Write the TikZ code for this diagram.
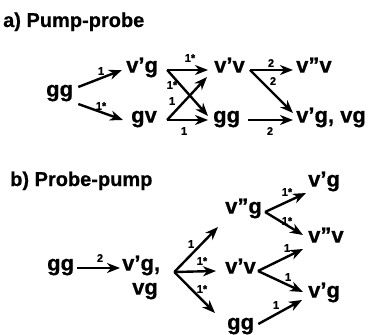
\documentclass[tikz,border=0pt]{standalone}
\usepackage{fontspec}
\setmainfont{Liberation Sans}
\newfontfamily\heavyfont[FakeBold=0.6]{Liberation Sans Bold}
\usetikzlibrary{arrows.meta}
\tikzset{
  st/.style={inner sep=0pt, anchor=mid west, font=\fontsize{22}{26}\selectfont\heavyfont},
  ttl/.style={inner sep=0pt, anchor=base west, font=\fontsize{20}{24}\selectfont\heavyfont},
  lbl/.style={inner sep=0pt, font=\fontsize{11}{13}\selectfont\heavyfont},
  arr/.style={line width=2.4pt, -{Stealth[length=13pt,width=10pt,inset=4pt]}}
}
\begin{document}
\begin{tikzpicture}[x=1pt,y=-1pt]
\useasboundingbox (0,0) rectangle (374,334);
% ---------- a) Pump-probe ----------
\node[ttl] (ta) at (3,27) {a) Pump-probe};
\node[st] (a1) at (46,94) {gg};
\node[st] (a2) at (126,70) {v’g};
\node[st] (a3) at (131,120) {gv};
\node[st] (a4) at (214,70) {v’v};
\node[st] (a5) at (213,120) {gg};
\node[st] (a6) at (296,70) {v”v};
\node[st] (a7) at (296,120) {v’g, vg};

\draw[arr] ([shift={(5,-7)}]a1.mid east) -- ([shift={(-4,0)}]a2.mid west);
\draw[arr] ([shift={(5,10)}]a1.mid east) -- ([shift={(-8,0)}]a3.mid west);
\draw[arr] ([shift={(9,0)}]a2.mid east) -- ([shift={(-6,0)}]a4.mid west);
\draw[arr] ([shift={(9,0)}]a2.mid east) -- ([shift={(-5,-4)}]a5.mid west);
\draw[arr] ([shift={(10,0)}]a3.mid east) -- ([shift={(-7,7)}]a4.mid west);
\draw[arr] ([shift={(10,0)}]a3.mid east) -- ([shift={(-5,0)}]a5.mid west);
\draw[arr] ([shift={(5,0)}]a4.mid east) -- ([shift={(-3,0)}]a6.mid west);
\draw[arr] ([shift={(5,0)}]a4.mid east) -- ([shift={(-3,-7)}]a7.mid west);
\draw[arr] ([shift={(8,0)}]a5.mid east) -- ([shift={(-3,0)}]a7.mid west);

\node[lbl] (la1) at (101,71) {1};
\node[lbl] (la2) at (101,106) {1*};
\node[lbl] (la3) at (190,58) {1*};
\node[lbl] (la4) at (172,85) {1*};
\node[lbl] (la5) at (172,101) {1};
\node[lbl] (la6) at (184,131) {1};
\node[lbl] (la7) at (271,63) {2};
\node[lbl] (la8) at (273,81) {2};
\node[lbl] (la9) at (270,131) {2};

% ---------- b) Probe-pump ----------
\node[ttl] (tb) at (10,186) {b) Probe-pump};
\node[st] (b1) at (47,268) {gg};
\node[st] (b2) at (122,268) {v’g,};
\node[st] (b3) at (132,292) {vg};
\node[st] (b4) at (225,211) {v”g};
\node[st] (b5) at (225,271) {v’v};
\node[st] (b6) at (227,327) {gg};
\node[st] (b7) at (308,184) {v’g};
\node[st] (b8) at (308,240) {v”v};
\node[st] (b9) at (308,295) {v’g};

\draw[arr] ([shift={(3,0)}]b1.mid east) -- ([shift={(-2,0)}]b2.mid west);
\draw[arr] ([shift={(14,4)}]b2.mid east) -- ([shift={(-7,16)}]b4.mid west);
\draw[arr] ([shift={(14,4)}]b2.mid east) -- ([shift={(-9,0)}]b5.mid west);
\draw[arr] ([shift={(14,4)}]b2.mid east) -- ([shift={(-12,-14)}]b6.mid west);
\draw[arr] ([shift={(3,1)}]b4.mid east) -- ([shift={(-2,9)}]b7.mid west);
\draw[arr] ([shift={(3,1)}]b4.mid east) -- ([shift={(-5,-5)}]b8.mid west);
\draw[arr] ([shift={(2,0)}]b5.mid east) -- ([shift={(-5,9)}]b8.mid west);
\draw[arr] ([shift={(2,0)}]b5.mid east) -- ([shift={(-5,-3)}]b9.mid west);
\draw[arr] ([shift={(4,-3)}]b6.mid east) -- ([shift={(-6,5)}]b9.mid west);

\node[lbl] (lb1) at (100,258) {2};
\node[lbl] (lb2) at (191,244) {1};
\node[lbl] (lb3) at (202,261) {1*};
\node[lbl] (lb4) at (202,289) {1*};
\node[lbl] (lb5) at (287,192) {1*};
\node[lbl] (lb6) at (287,221) {1*};
\node[lbl] (lb7) at (287,248) {1};
\node[lbl] (lb8) at (288,277) {1};
\node[lbl] (lb9) at (276,305) {1};
\end{tikzpicture}
\end{document}
